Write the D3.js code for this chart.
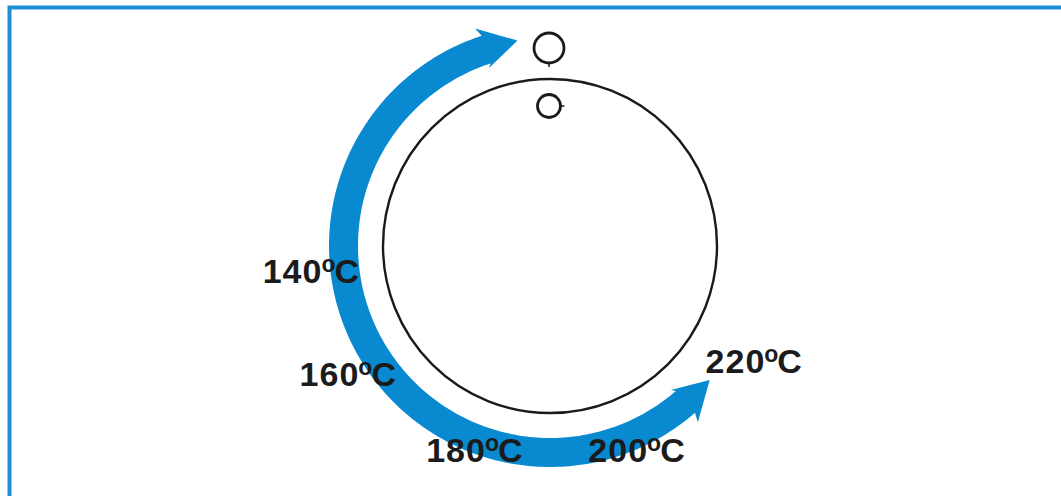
<!DOCTYPE html>
<html>
<head>
<meta charset="utf-8">
<script src="https://cdn.jsdelivr.net/npm/d3@7"></script>
<style>
  html, body { margin: 0; padding: 0; background: #ffffff; overflow: hidden; }
  svg { display: block; }
</style>
</head>
<body>
<svg id="chart" width="1061" height="496"></svg>
<script>
// ---- data ----
const temperatures = [140, 160, 180, 200, 220];
const unitSup = "o";
const unitLetter = "C";
// symbols above the dial (top: "off" mark, below: dial marker)
const symbols = ["off", "marker"];

// ---- layout ----
const W = 1061, H = 496;
const cx = 550, cy = 246;
const dialR = 167;
const bandInner = 192, bandOuter = 221;
const deg = Math.PI / 180;

const svg = d3.select("#chart");
const g = svg.append("g").attr("transform", `translate(${cx},${cy})`);

// frame
svg.append("rect")
  .attr("x", 9.5).attr("y", 7.5)
  .attr("width", 1200).attr("height", 700)
  .attr("fill", "none")
  .attr("stroke", "#1e8fd6")
  .attr("stroke-width", 4);

// angle scale for labels: temperature -> angle around the dial (deg, clockwise from 12 o'clock)
const labelAngle = d3.scaleOrdinal().domain(temperatures).range([261.2, 235.3, 199.3, 158.2, 121.9]);
const labelRadius = d3.scaleOrdinal().domain(temperatures).range([242, 246, 229, 233, 240]);

// blue double-headed arc band
const startJoin = 139, endJoin = 342;
const pts = [];
d3.range(startJoin, endJoin + 0.001, 1).forEach(a => pts.push([a * deg, bandOuter]));
pts.push([341 * deg, 230]);
pts.push([351 * deg, 208]);
pts.push([341 * deg, 188]);
pts.push([342 * deg, bandInner]);
d3.range(endJoin, startJoin - 0.001, -1).forEach(a => pts.push([a * deg, bandInner]));
pts.push([140 * deg, 188]);
pts.push([130 * deg, 208.5]);
pts.push([140 * deg, 230]);

const radial = d3.lineRadial().angle(d => d[0]).radius(d => d[1]).curve(d3.curveLinearClosed);
g.append("path")
  .attr("d", radial(pts))
  .attr("fill", "#0889d0");

// dial
g.append("circle")
  .attr("r", dialR)
  .attr("fill", "none")
  .attr("stroke", "#1a1a1a")
  .attr("stroke-width", 2.4);

// symbols
const symY = d3.scaleOrdinal().domain(symbols).range([-198, -140]);
const symR = d3.scaleOrdinal().domain(symbols).range([15, 11.5]);
symbols.forEach(s => {
  g.append("circle")
    .attr("cx", -1).attr("cy", symY(s))
    .attr("r", symR(s))
    .attr("fill", "none")
    .attr("stroke", "#1a1a1a")
    .attr("stroke-width", 2.8);
});
// small ticks on the symbols
g.append("line")
  .attr("x1", -1).attr("x2", -1)
  .attr("y1", symY("off") + symR("off")).attr("y2", symY("off") + symR("off") + 4)
  .attr("stroke", "#1a1a1a").attr("stroke-width", 1.5);
g.append("line")
  .attr("x1", -1 + symR("marker")).attr("x2", -1 + symR("marker") + 4)
  .attr("y1", symY("marker")).attr("y2", symY("marker"))
  .attr("stroke", "#1a1a1a").attr("stroke-width", 1.5);

// labels
const labels = g.selectAll("text.lab")
  .data(temperatures)
  .join("text")
  .attr("class", "lab")
  .attr("x", d => Math.sin(labelAngle(d) * deg) * labelRadius(d))
  .attr("y", d => -Math.cos(labelAngle(d) * deg) * labelRadius(d))
  .attr("text-anchor", "middle")
  .attr("font-family", "'Liberation Sans', Arial, Helvetica, sans-serif")
  .attr("font-weight", "bold")
  .attr("font-size", 34)
  .attr("fill", "#1b1b1b");

labels.append("tspan").text(d => String(d)).attr("letter-spacing", 1);
labels.append("tspan").text(unitSup).attr("font-size", 23).attr("dy", -11).attr("dx", -1);
labels.append("tspan").text(unitLetter).attr("dy", 11).attr("dx", -1);
</script>
</body>
</html>
